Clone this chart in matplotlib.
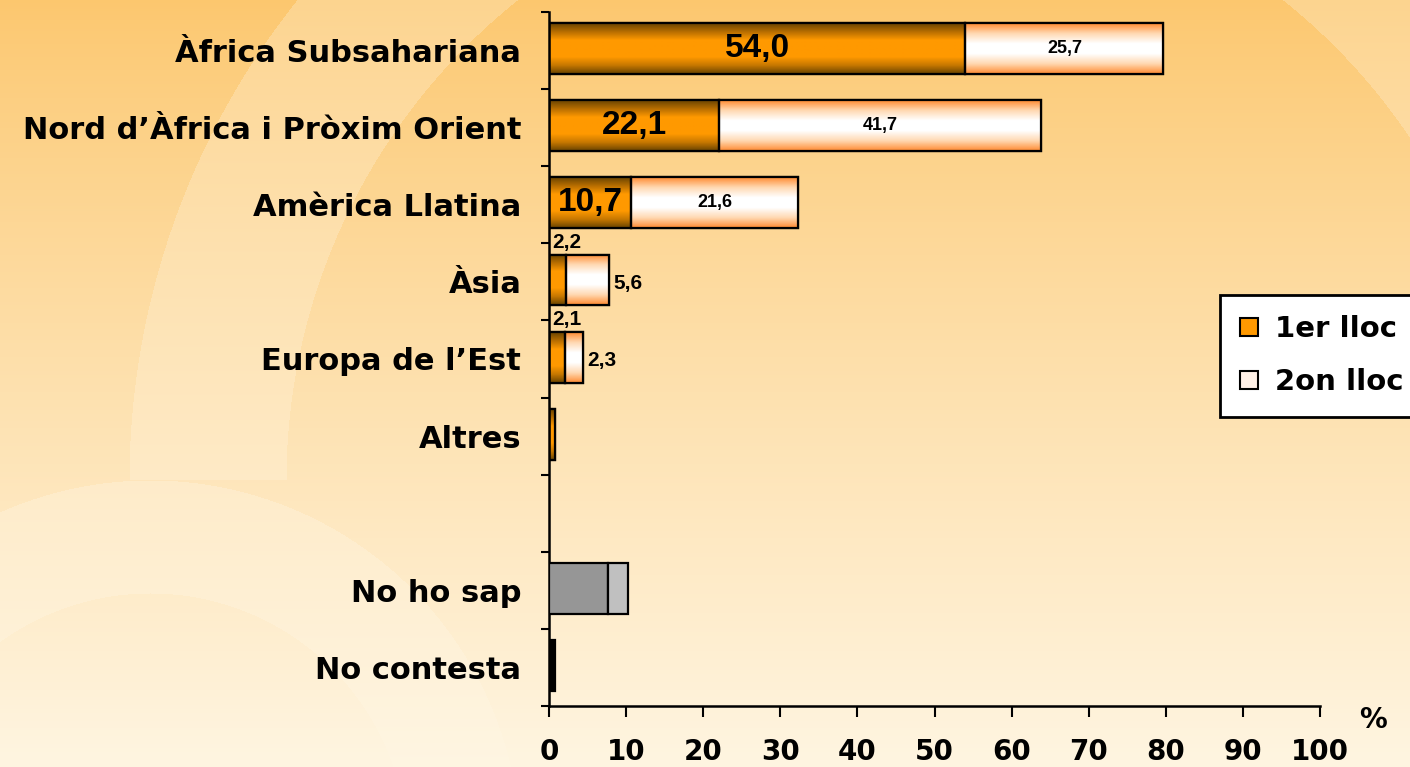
import numpy as np
import matplotlib
matplotlib.use('Agg')
import matplotlib.pyplot as plt
from matplotlib.patches import Patch

# 数据
categories = ['Àfrica Subsahariana', 'Nord d’Àfrica i Pròxim Orient', 'Amèrica Llatina',
              'Àsia', 'Europa de l’Est', 'Altres', '', 'No ho sap', 'No contesta']
primer = [54.0, 22.1, 10.7, 2.2, 2.1, 0.8]
segon = [25.7, 41.7, 21.6, 5.6, 2.3, 0.0]
no_ho_sap = [7.6, 2.6]
no_contesta = [0.8]
xticks = list(range(0, 101, 10))
legend_labels = ['1er lloc', '2on lloc']

W, H = 1410, 767
fig = plt.figure(figsize=(W / 100, H / 100), dpi=100)

# 背景渐变
yy, xx = np.mgrid[0:H, 0:W].astype(float)
t = np.clip(yy / H, 0, 1) ** 0.85
top = np.array([252, 199, 110]) / 255
bot = np.array([255, 245, 225]) / 255
img = top[None, None, :] * (1 - t[..., None]) + bot[None, None, :] * t[..., None]
light = np.array([255, 246, 228]) / 255
d1 = np.hypot(xx - 900, yy - 480)
ring1 = ((d1 > 614) & (d1 < 771) & (yy < 480)).astype(float) * 0.28
d2 = np.hypot(xx - 150, yy - 850)
ring2 = ((d2 > 257) & (d2 < 370)).astype(float) * 0.35
mix = np.clip(ring1 + ring2, 0, 0.6)[..., None]
img = img * (1 - mix) + light[None, None, :] * mix

bg = fig.add_axes([0, 0, 1, 1])
bg.imshow(img, aspect='auto', interpolation='bilinear')
bg.axis('off')

ax = fig.add_axes([549 / W, 1 - 706 / H, (1320 - 549) / W, (706 - 12) / H])
ax.patch.set_alpha(0)

ypos = np.arange(len(categories)) - 0.025
bh = 0.66
ry = ypos[:6]
lw = 1.6

def gradient_fill(bars, stops):
    # 在每个条形内画竖向渐变
    col = np.array(stops)
    s = np.linspace(0, 1, 64)
    pos = np.linspace(0, 1, len(col))
    grad = np.stack([np.interp(s, pos, col[:, k]) for k in range(3)], axis=-1)[:, None, :]
    for b in bars:
        x0, y0 = b.get_x(), b.get_y()
        w, h = b.get_width(), b.get_height()
        if w <= 0:
            continue
        im = ax.imshow(grad, extent=(x0, x0 + w, y0 + h, y0), aspect='auto',
                       interpolation='bilinear', zorder=2.5)
        im.set_clip_path(b)

orange_stops = [(0.42, 0.27, 0.0), (0.72, 0.43, 0.0), (1.0, 0.6, 0.0), (1.0, 0.6, 0.0),
                (1.0, 0.6, 0.0), (0.78, 0.47, 0.0), (0.42, 0.27, 0.0)]
white_stops = [(1.0, 0.55, 0.2), (1.0, 0.85, 0.7), (1.0, 1.0, 1.0), (1.0, 1.0, 1.0),
               (1.0, 0.85, 0.7), (1.0, 0.55, 0.2)]

b1 = ax.barh(ry, primer, height=bh, color='#FF9900', edgecolor='black', linewidth=lw, zorder=2)
b2 = ax.barh(ry[:5], segon[:5], left=primer[:5], height=bh, color='white', edgecolor='black',
             linewidth=lw, zorder=2)
gradient_fill(b1, orange_stops)
gradient_fill(b2, white_stops)
# 边框放在渐变上面
ax.barh(ry, primer, height=bh, color='none', edgecolor='black', linewidth=lw, zorder=3)
ax.barh(ry[:5], segon[:5], left=primer[:5], height=bh, color='none', edgecolor='black',
        linewidth=lw, zorder=3)

ax.barh(ypos[7], no_ho_sap[0], height=bh, color='#969696', edgecolor='black', linewidth=lw, zorder=3)
ax.barh(ypos[7], no_ho_sap[1], left=no_ho_sap[0], height=bh, color='#C0C0C0',
        edgecolor='black', linewidth=lw, zorder=3)
ax.barh(ypos[8], no_contesta[0], height=bh, color='black', edgecolor='black', linewidth=lw, zorder=3)

# 数值标签
fmt = lambda v: f'{v:.1f}'.replace('.', ',')
narrow = ['Liberation Sans Narrow', 'Liberation Sans']
for i in range(3):
    ax.text(primer[i] / 2, ry[i], fmt(primer[i]), ha='center', va='center',
            fontsize=24, fontweight='bold', family=narrow, zorder=5)
    ax.text(primer[i] + segon[i] / 2, ry[i], fmt(segon[i]), ha='center',
            va='center', fontsize=13, fontweight='bold', family=narrow, zorder=5)
for i in (3, 4):
    ax.text(0.4, ry[i] - bh / 2 - 0.03, fmt(primer[i]), ha='left',
            va='bottom', fontsize=15, fontweight='bold', family=narrow, zorder=5)
    ax.text(primer[i] + segon[i] + 0.5, ry[i] + 0.05, fmt(segon[i]),
            ha='left', va='center', fontsize=15, fontweight='bold', family=narrow, zorder=5)

ax.set_xlim(0, 100)
ax.set_ylim(len(categories) - 0.5, -0.5)
ax.set_xticks(xticks)
ax.set_xticklabels([str(v) for v in xticks], fontsize=20, fontweight='bold', family='DejaVu Sans')
ax.set_yticks(np.arange(len(categories)))
ax.set_yticklabels(categories, fontsize=22, fontweight='bold', family='DejaVu Sans')
ax.set_yticks(np.arange(len(categories) + 1) - 0.5, minor=True)
ax.tick_params(axis='y', which='major', length=0, pad=20)
ax.tick_params(axis='y', which='minor', length=6, width=1.5, direction='out')
ax.tick_params(axis='x', length=8, width=1.5, direction='out', pad=15)
for s in ('top', 'right'):
    ax.spines[s].set_visible(False)
for s in ('left', 'bottom'):
    ax.spines[s].set_linewidth(1.8)

fig.text(1373 / W, 1 - 720 / H, '%', ha='center', va='center', fontsize=20, fontweight='bold',
         family='DejaVu Sans')

handles = [Patch(facecolor='#FF9900', edgecolor='black', linewidth=1.5),
           Patch(facecolor='#FFF0E6', edgecolor='black', linewidth=1.5)]
leg = fig.legend(handles, legend_labels, loc='upper left', bbox_to_anchor=(1220 / W, 1 - 295 / H),
                 prop={'family': 'DejaVu Sans', 'weight': 'bold', 'size': 21},
                 fancybox=False, framealpha=1, edgecolor='black', handlelength=0.6,
                 handleheight=0.6, handletextpad=0.6, labelspacing=0.85, borderpad=0.7,
                 borderaxespad=0)
leg.get_frame().set_linewidth(2)

fig.savefig('out.png', dpi=100)
